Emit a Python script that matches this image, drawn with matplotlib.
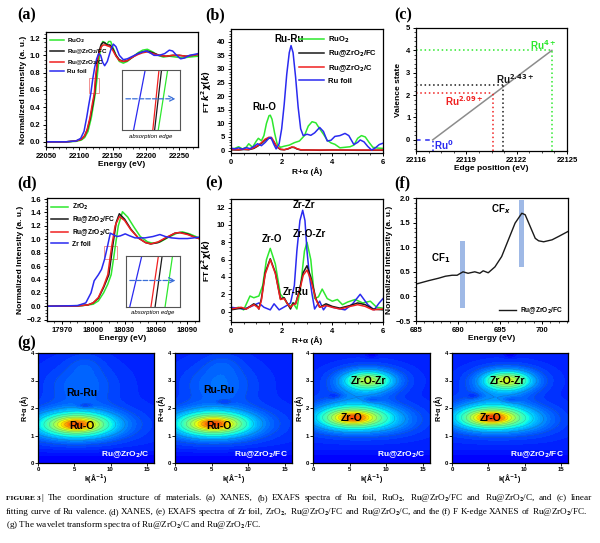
import numpy as np
import matplotlib
matplotlib.use('Agg')
import matplotlib.pyplot as plt
from matplotlib.patches import Rectangle

plt.rcParams['font.family'] = ['Liberation Sans', 'DejaVu Sans']
plt.rcParams['font.weight'] = 'bold'
plt.rcParams['axes.labelweight'] = 'bold'
plt.rcParams['axes.linewidth'] = 0.9

GREEN = '#2ee82e'
BLACK = '#1a1a1a'
RED = '#f02020'
BLUE = '#2a2af0'

# ---------------- (a) Ru K-edge XANES ----------------
a_labels = ['RuO$_2$', 'Ru@ZrO$_2$/FC', 'Ru@ZrO$_2$/C', 'Ru foil']
a_ruo2_e = [22050, 22080, 22095, 22103, 22108, 22113, 22118, 22121, 22124, 22126.6, 22129, 22132, 22135, 22138,
            22141, 22144, 22147, 22150, 22155, 22160, 22166, 22172, 22180, 22188, 22195, 22202, 22210, 22218,
            22226, 22235, 22245, 22255, 22265, 22278]
a_ruo2_mu = [0, 0, 0.005, 0.02, 0.05, 0.12, 0.28, 0.42, 0.56, 0.74, 0.92, 1.08, 1.16, 1.15, 1.12, 1.16, 1.16,
             1.10, 1.0, 0.93, 0.91, 0.93, 0.98, 1.03, 1.06, 1.07, 1.04, 1.0, 0.98, 0.99, 0.98, 0.97, 0.98, 0.99]
a_fc_e = [22050, 22080, 22095, 22103, 22108, 22112, 22116, 22120, 22123, 22124.9, 22127, 22130, 22133, 22136,
          22139, 22142, 22146, 22150, 22155, 22160, 22166, 22172, 22180, 22188, 22195, 22202, 22210, 22220,
          22230, 22240, 22250, 22260, 22270, 22278]
a_fc_mu = [0, 0, 0.01, 0.03, 0.07, 0.14, 0.26, 0.42, 0.56, 0.74, 0.92, 1.06, 1.13, 1.15, 1.14, 1.12, 1.12,
           1.08, 1.0, 0.95, 0.93, 0.94, 0.98, 1.02, 1.04, 1.05, 1.03, 1.0, 0.99, 1.0, 1.0, 0.99, 1.0, 1.01]
a_c_e = [22050, 22080, 22095, 22103, 22108, 22112, 22116, 22119.5, 22122.5, 22124.2, 22127, 22130, 22133, 22136,
         22139, 22142, 22146, 22150, 22155, 22160, 22166, 22172, 22180, 22188, 22195, 22202, 22210, 22220,
         22230, 22240, 22250, 22260, 22270, 22278]
a_c_mu = [0, 0, 0.01, 0.03, 0.07, 0.15, 0.28, 0.44, 0.56, 0.74, 0.92, 1.04, 1.10, 1.12, 1.12, 1.11, 1.10,
          1.06, 0.99, 0.94, 0.93, 0.94, 0.98, 1.01, 1.03, 1.04, 1.02, 1.0, 0.99, 1.0, 1.0, 0.99, 1.0, 1.01]
a_foil_e = [22050, 22080, 22095, 22102, 22107, 22111, 22114, 22117.2, 22120.4, 22123, 22126, 22129, 22132,
            22135, 22138, 22142, 22147, 22151, 22155, 22160, 22166, 22172, 22180, 22188, 22195, 22200, 22206,
            22212, 22220, 22228, 22235, 22240, 22246, 22252, 22258, 22265, 22272, 22278]
a_foil_mu = [0, 0, 0.01, 0.04, 0.12, 0.28, 0.42, 0.56, 0.74, 0.86, 0.96, 1.02, 1.0, 0.92, 0.88, 0.93, 1.06,
             1.13, 1.10, 1.0, 0.95, 0.96, 0.99, 1.02, 1.04, 1.05, 1.03, 1.0, 1.0, 1.02, 1.06, 1.05, 1.0, 0.96,
             0.97, 1.0, 1.01, 1.02]
a_zoom_box = [22114, 22130, 0.56, 0.74]

# ---------------- (b) Ru EXAFS ----------------
b_labels = a_labels
b_ruo2_r = [0, 0.15, 0.3, 0.45, 0.6, 0.7, 0.85, 1.0, 1.08, 1.2, 1.3, 1.4, 1.5, 1.55, 1.62, 1.72, 1.82, 1.95, 2.1,
            2.3, 2.5, 2.7, 2.9, 3.05, 3.2, 3.35, 3.5, 3.65, 3.8, 3.95, 4.1, 4.3, 4.5, 4.7, 4.85, 5.0, 5.15, 5.3,
            5.45, 5.6, 5.8, 6.0]
b_ruo2_ft = [0.5, 0.8, 1.4, 0.6, 1.2, 2.5, 1.2, 3.5, 4.5, 3.6, 5.5, 10, 12.8, 13.0, 11.5, 6.5, 2.5, 1.2, 1.6,
             2.0, 2.9, 3.5, 5.5, 9.0, 10.6, 10.2, 8.0, 6.0, 3.8, 2.8, 2.3, 1.0, 1.2, 1.4, 2.0, 4.5, 5.5, 5.0,
             3.0, 1.2, 0.9, 0.8]
b_fc_r = [0, 0.3, 0.5, 0.7, 0.9, 1.05, 1.2, 1.35, 1.5, 1.6, 1.7, 1.8, 1.95, 2.1, 2.25, 2.4, 2.5, 2.6, 2.75,
          3.0, 3.5, 4.0, 5.0, 6.0]
b_fc_ft = [0.3, 0.2, 0.4, 0.3, 0.8, 1.6, 2.6, 3.9, 4.6, 4.4, 3.0, 1.4, 0.4, 0.3, 0.6, 1.2, 1.1, 0.6, 0.2,
           0.2, 0.1, 0.2, 0.1, 0.1]
b_c_r = b_fc_r
b_c_ft = [0.4, 0.3, 0.5, 0.4, 1.0, 1.8, 2.9, 4.2, 4.9, 4.8, 3.3, 1.6, 0.5, 0.3, 0.7, 1.3, 1.2, 0.7, 0.3,
          0.2, 0.2, 0.2, 0.2, 0.2]
b_foil_r = [0, 0.15, 0.3, 0.45, 0.6, 0.75, 0.9, 1.05, 1.2, 1.35, 1.5, 1.58, 1.68, 1.78, 1.9, 2.0, 2.1, 2.2,
            2.3, 2.37, 2.45, 2.55, 2.65, 2.75, 2.85, 3.0, 3.15, 3.3, 3.5, 3.65, 3.8, 3.95, 4.1, 4.3, 4.5, 4.65,
            4.85, 5.0, 5.1, 5.25, 5.4, 5.55, 5.7, 5.85, 6.0]
b_foil_ft = [0.9, 0.6, 1.0, 0.5, 1.1, 0.7, 1.5, 2.5, 1.8, 3.0, 4.6, 4.8, 2.5, 0.6, 2.5, 8, 17, 28, 36, 38.6,
             36, 27, 16, 8, 5.5, 6.0, 5.6, 6.5, 8.5, 7.0, 3.5, 3.8, 5.2, 5.5, 6.3, 5.5, 2.2, 3.0, 3.9, 3.2,
             1.5, 0.2, 1.0, 2.2, 2.7]

# ---------------- (c) valence fit ----------------
c_names = ['Ru$^0$', 'Ru$^{2.09+}$', 'Ru$^{2.43+}$', 'Ru$^{4+}$']
c_edge = [22117.0, 22120.6, 22121.2, 22124.1]
c_valence = [0, 2.09, 2.43, 4]
c_colors = [BLUE, RED, BLACK, GREEN]

# ---------------- (d) Zr K-edge XANES ----------------
d_labels = ['ZrO$_2$', 'Ru@ZrO$_2$/FC', 'Ru@ZrO$_2$/C', 'Zr foil']
d_zro2_e = [17956, 17990, 18000, 18005, 18010, 18014, 18017.2, 18019.4, 18021.2, 18024, 18028, 18033, 18039,
            18045, 18052, 18057, 18064, 18072, 18080, 18085, 18092, 18098, 18101]
d_zro2_mu = [0, 0.01, 0.03, 0.08, 0.2, 0.33, 0.47, 0.70, 0.90, 1.2, 1.41, 1.33, 1.18, 1.04, 0.96, 0.94, 0.96,
             1.03, 1.09, 1.11, 1.08, 1.04, 1.02]
d_fc_e = [17956, 17985, 17995, 18000, 18005, 18010, 18015, 18017, 18018.7, 18022, 18025, 18030, 18036, 18043,
          18050, 18055, 18062, 18070, 18078, 18083, 18090, 18097, 18101]
d_fc_mu = [0, 0.005, 0.02, 0.05, 0.12, 0.28, 0.47, 0.70, 0.90, 1.25, 1.38, 1.3, 1.15, 1.02, 0.95, 0.93, 0.95,
           1.02, 1.09, 1.10, 1.08, 1.03, 1.01]
d_c_e = [17956, 17985, 17995, 18000, 18005, 18010, 18014, 18016, 18017.8, 18021, 18025, 18030, 18036, 18043,
         18050, 18055, 18062, 18070, 18078, 18082, 18090, 18097, 18101]
d_c_mu = [0, 0.005, 0.02, 0.05, 0.13, 0.30, 0.47, 0.70, 0.90, 1.2, 1.34, 1.28, 1.14, 1.02, 0.95, 0.93, 0.96,
          1.03, 1.09, 1.10, 1.07, 1.03, 1.01]
d_foil_e = [17956, 17985, 17993, 17998, 18001, 18005, 18008, 18010.9, 18013.8, 18016.4, 18019, 18022.7,
            18026, 18030.6, 18035, 18040, 18049.5, 18057, 18063.7, 18069, 18074.8, 18082, 18090, 18096, 18101]
d_foil_mu = [0, 0.01, 0.05, 0.2, 0.38, 0.47, 0.55, 0.70, 0.90, 1.09, 1.07, 1.04, 1.05, 1.08, 1.05, 1.02,
             1.02, 1.04, 1.07, 1.04, 1.02, 1.01, 1.01, 1.02, 1.03]
d_zoom_box = [18010, 18023, 0.70, 0.90]

# ---------------- (e) Zr EXAFS ----------------
e_zro2_r = [0, 0.3, 0.5, 0.75, 0.9, 1.1, 1.25, 1.4, 1.55, 1.75, 1.95, 2.1, 2.2, 2.35, 2.45, 2.6, 2.75, 2.9,
            3.0, 3.15, 3.3, 3.45, 3.6, 3.8, 4.0, 4.2, 4.4, 4.6, 4.9, 5.2, 5.5, 5.75, 6.0]
e_zro2_ft = [0.3, 0.5, 0.2, 1.8, 1.6, 1.8, 3.0, 6.0, 7.3, 5.5, 2.0, 1.5, 1.0, 0.6, 1.0, 0.3, 3.0, 7.0, 8.0,
             6.0, 1.5, 1.7, 2.6, 1.5, 1.2, 1.4, 0.8, 1.1, 1.4, 1.0, 1.2, 0.5, 0.4]
e_fc_r = [0, 0.4, 0.6, 0.9, 1.05, 1.1, 1.2, 1.35, 1.55, 1.75, 1.95, 2.1, 2.25, 2.35, 2.45, 2.55, 2.7, 2.85,
          3.0, 3.15, 3.35, 3.5, 3.75, 4.0, 4.3, 4.7, 5.0, 5.3, 5.6, 6.0]
e_fc_ft = [0.2, 0.4, 0.3, 0.9, 0.6, 0.3, 1.5, 4.5, 6.1, 4.5, 1.5, 1.6, 0.8, 0.3, 1.0, 0.9, 2.5, 4.5, 5.3,
           4.0, 1.5, 0.5, 0.9, 0.6, 0.4, 0.7, 1.0, 0.8, 0.3, 0.2]
e_c_r = e_fc_r
e_c_ft = [0.3, 0.5, 0.3, 0.8, 0.5, 0.3, 1.3, 4.3, 6.0, 4.4, 1.4, 1.5, 0.8, 0.5, 0.8, 0.9, 2.3, 4.2, 4.8,
          3.7, 1.4, 0.5, 0.7, 0.5, 0.3, 0.6, 0.8, 0.6, 0.2, 0.3]
e_foil_r = [0, 0.5, 0.8, 1.1, 1.3, 1.55, 1.7, 1.9, 2.2, 2.35, 2.5, 2.6, 2.72, 2.83, 2.92, 3.0, 3.1, 3.2, 3.3,
            3.5, 3.65, 3.8, 4.0, 4.5, 4.8, 5.1, 5.4, 5.65, 5.85, 6.0]
e_foil_ft = [0.5, 0.3, 0.6, 1.0, 0.5, 0.2, 0.9, 0.2, 0.7, 1.0, 3.0, 7.0, 10.5, 11.7, 10.5, 7.0, 4.0, 2.0, 0.3,
             1.2, 0.2, 0.8, 0.5, 0.2, 0.9, 2.0, 0.8, 0.2, 1.0, 1.5]

# ---------------- (f) F K-edge XANES ----------------
f_e = [685, 686.5, 687.7, 688.5, 689.3, 689.9, 690.6, 691.2, 692, 692.6, 693, 693.6, 694.4, 695.2, 696,
       696.8, 697.6, 698, 698.6, 699.2, 699.6, 700.2, 701.2, 702, 703.1]
f_mu = [0.25, 0.32, 0.37, 0.41, 0.43, 0.43, 0.50, 0.47, 0.50, 0.47, 0.52, 0.48, 0.60, 0.81, 1.15, 1.49, 1.69,
        1.66, 1.42, 1.18, 1.13, 1.11, 1.15, 1.22, 1.32]
f_band_e = [690.55, 697.6]
f_band_lo = [-0.23, 0.6]
f_band_hi = [1.12, 1.95]
f_band_names = ['CF$_1$', 'CF$_x$']

# ---------------- (g) wavelet transforms: (k0, R0, sk, sR, amplitude) ----------------
wt_titles = ['Ru@ZrO$_2$/C', 'Ru@ZrO$_2$/FC', 'Ru@ZrO$_2$/C', 'Ru@ZrO$_2$/FC']
wt_ru_c = [(5.3, 1.40, 5.5, 0.45, 0.12), (5.3, 1.40, 3.4, 0.30, 0.32), (5.3, 1.40, 1.8, 0.14, 0.22),
           (6.0, 2.8, 3.5, 0.55, 0.07), (6.5, 3.6, 1.8, 0.3, 0.03),
           (6.5, 2.08, 0.8, 0.07, -0.06), (8.0, 0.1, 20.0, 0.25, -0.04)]
wt_ru_fc = [(5.3, 1.42, 5.5, 0.45, 0.12), (5.3, 1.42, 3.4, 0.30, 0.32), (5.3, 1.42, 1.8, 0.14, 0.23),
            (6.0, 2.85, 3.5, 0.55, 0.075), (6.5, 3.6, 1.8, 0.3, 0.03),
            (6.7, 2.22, 0.8, 0.07, -0.05), (8.0, 0.1, 20.0, 0.25, -0.04)]
wt_zr_c = [(5.5, 1.65, 5.0, 0.42, 0.12), (5.5, 1.65, 3.2, 0.28, 0.32), (5.5, 1.65, 1.7, 0.13, 0.22),
           (7.5, 3.0, 3.0, 0.32, 0.20), (7.5, 3.0, 1.8, 0.18, 0.20),
           (6.0, 2.4, 3.0, 0.35, 0.04), (11.0, 1.5, 3.0, 0.35, 0.04),
           (3.0, 2.45, 0.7, 0.08, -0.05), (8.0, 2.3, 0.8, 0.08, -0.05), (8.0, 3.95, 0.6, 0.1, -0.05),
           (8.0, 0.1, 20.0, 0.25, -0.04)]
wt_zr_fc = [(5.5, 1.65, 5.0, 0.42, 0.12), (5.5, 1.65, 3.2, 0.28, 0.32), (5.5, 1.65, 1.7, 0.13, 0.24),
            (7.6, 3.0, 3.0, 0.32, 0.21), (7.6, 3.0, 1.8, 0.18, 0.23),
            (6.0, 2.4, 3.0, 0.35, 0.04), (11.0, 1.5, 3.0, 0.35, 0.04),
            (3.0, 2.45, 0.7, 0.08, -0.05), (8.0, 2.3, 0.8, 0.08, -0.05), (8.0, 3.95, 0.6, 0.1, -0.05),
            (8.0, 0.1, 20.0, 0.25, -0.04)]
wt_background = 0.16
wt_names = [('Ru-O', 'Ru-Ru'), ('Ru-O', 'Ru-Ru'), ('Zr-O', 'Zr-O-Zr'), ('Zr-O', 'Zr-O-Zr')]
wt_name_pos = [((6.0, 1.36), (6.0, 2.55)), ((6.0, 1.36), (6.0, 2.65)),
               ((5.3, 1.64), (7.6, 3.0)), ((5.3, 1.64), (7.6, 3.0))]

cap_line1 = ('The coordination structure of materials. (a) XANES, (b) EXAFS spectra of Ru foil, RuO$_2$, '
             'Ru@ZrO$_2$/FC and Ru@ZrO$_2$/C, and (c) linear')
cap_line2 = ('fitting curve of Ru valence. (d) XANES, (e) EXAFS spectra of Zr foil, ZrO$_2$, Ru@ZrO$_2$/FC and '
             'Ru@ZrO$_2$/C, and the (f) F K-edge XANES of Ru@ZrO$_2$/FC.')
cap_line3 = '(g) The wavelet transform spectra of Ru@ZrO$_2$/C and Ru@ZrO$_2$/FC.'

fig = plt.figure(figsize=(6, 5.43), dpi=100)
renderer = fig.canvas.get_renderer()


def px_axes(l, t, r, b):
    return fig.add_axes([l / 600, 1 - b / 543, (r - l) / 600, (b - t) / 543])


def style(ax, size=5.5):
    ax.tick_params(labelsize=size, length=2.5, width=0.7, pad=1.5)
    ax.tick_params(which='minor', length=1.5, width=0.5)
    ax.minorticks_on()


def panel_label(x, y, s):
    fig.text(x / 600, 1 - y / 543, s, family=['Liberation Serif'], fontsize=11.5,
             fontweight='bold', va='center', ha='left')


def justified(line, x0, x1, y, **kw):
    words = line.split(' ')
    texts = [fig.text(0, 1 - y / 543, w, **kw) for w in words]
    widths = [t.get_window_extent(renderer).width for t in texts]
    gap = (x1 - x0 - sum(widths)) / (len(words) - 1)
    x = x0
    for t, w in zip(texts, widths):
        t.set_x(x / 600)
        x += w + gap


def xanes_inset(rect, curves, box):
    ins = px_axes(*rect)
    for e, mu, col in curves:
        ins.plot(e, mu, color=col, lw=0.9)
    ins.set_xlim(box[0], box[1])
    ins.set_ylim(box[2], box[3])
    ins.set_xticks([])
    ins.set_yticks([])
    for s in ins.spines.values():
        s.set_color('#555555')
        s.set_linewidth(0.8)
    ins.annotate('', xy=(0.97, 0.52), xytext=(0.02, 0.52), xycoords='axes fraction',
                 arrowprops=dict(arrowstyle='->', ls='--', color='#3a6fd8', lw=0.9))
    ins.text(0.5, -0.06, 'absorption edge', transform=ins.transAxes, ha='center', va='top',
             fontsize=4.3, style='italic', fontweight='normal')


# ---- (a)
ax = px_axes(46, 32, 198, 147)
a_curves = [(a_ruo2_e, a_ruo2_mu, GREEN), (a_fc_e, a_fc_mu, BLACK), (a_c_e, a_c_mu, RED),
            (a_foil_e, a_foil_mu, BLUE)]
for (e, mu, col), lab in zip(a_curves, a_labels):
    ax.plot(e, mu, color=col, lw=1.1, label=lab)
ax.set_xlim(22050, 22278)
ax.set_ylim(-0.06, 1.27)
ax.set_xticks([22050, 22100, 22150, 22200, 22250])
ax.set_yticks(np.arange(0, 1.21, 0.2))
ax.set_xlabel('Energy (eV)', fontsize=6, labelpad=1)
ax.set_ylabel('Normalized Intensity (a. u.)', fontsize=6, labelpad=2)
ax.add_patch(Rectangle((a_zoom_box[0], a_zoom_box[2]), a_zoom_box[1] - a_zoom_box[0],
                       a_zoom_box[3] - a_zoom_box[2], fill=False, ec='#f08080', lw=0.6))
ax.legend(loc='upper left', frameon=False, fontsize=4.5, handlelength=2.2, labelspacing=0.35,
          borderaxespad=0.2, handletextpad=0.6)
style(ax)
xanes_inset((122, 70, 180, 130), a_curves, a_zoom_box)

# ---- (b)
ax = px_axes(231, 29, 383, 153)
for r, ft, col, lab in [(b_ruo2_r, b_ruo2_ft, GREEN, b_labels[0]), (b_fc_r, b_fc_ft, BLACK, b_labels[1]),
                        (b_c_r, b_c_ft, RED, b_labels[2]), (b_foil_r, b_foil_ft, BLUE, b_labels[3])]:
    ax.plot(r, ft, color=col, lw=1.1, label=lab)
ax.set_xlim(0, 6)
ax.set_ylim(-0.9, 44.7)
ax.set_xticks([0, 2, 4, 6])
ax.set_yticks(np.arange(0, 41, 5))
ax.set_xlabel('R+α (Å)', fontsize=6, labelpad=1)
ax.set_ylabel(r'FT $k^2\chi(k)$', fontsize=6, labelpad=2)
ax.text(2.3, 41.2, 'Ru-Ru', fontsize=7, ha='center', va='center')
ax.text(1.3, 16.2, 'Ru-O', fontsize=7, ha='center', va='center')
ax.legend(loc='upper right', frameon=False, fontsize=5.5, handlelength=3.2, labelspacing=0.5,
          borderaxespad=0.3, handletextpad=0.6)
style(ax)

# ---- (c)
ax = px_axes(416, 28, 567, 151)
ax.plot([c_edge[0], c_edge[-1]], [c_valence[0], c_valence[-1]], color='#8c8c8c', lw=1.1)
for e, v, col in zip(c_edge, c_valence, c_colors):
    ls = (0, (3, 3)) if v == 0 else (0, (1, 1.8))
    ax.plot([22116, e], [v, v], color=col, lw=1.1, ls=ls)
    ax.plot([e, e], [-0.5, v], color=col, lw=1.1, ls=(0, (1, 1.8)))
c_text = [(22117.1, -0.22, 'left'), (22120.0, 1.72, 'right'), (22121.9, 2.7, 'center'), (22123.6, 4.25, 'center')]
for (x, y, ha), s, col in zip(c_text, c_names, c_colors):
    ax.text(x, y, s, color=col, fontsize=7, ha=ha, va='center')
ax.set_xlim(22116, 22125)
ax.set_ylim(-0.5, 5)
ax.set_xticks([22116, 22119, 22122, 22125])
ax.set_yticks(range(0, 6))
ax.set_xlabel('Edge position (eV)', fontsize=6, labelpad=1)
ax.set_ylabel('Valence state', fontsize=6, labelpad=3)
style(ax)

# ---- (d)
ax = px_axes(47, 198, 199, 321)
d_curves = [(d_zro2_e, d_zro2_mu, GREEN), (d_fc_e, d_fc_mu, BLACK), (d_c_e, d_c_mu, RED),
            (d_foil_e, d_foil_mu, BLUE)]
for (e, mu, col), lab in zip(d_curves, d_labels):
    ax.plot(e, mu, color=col, lw=1.1, label=lab)
ax.set_xlim(17956, 18101)
ax.set_ylim(-0.22, 1.615)
ax.set_xticks([17970, 18000, 18030, 18060, 18090])
ax.set_yticks(np.arange(-0.2, 1.61, 0.2))
ax.set_xlabel('Energy (eV)', fontsize=6, labelpad=1)
ax.set_ylabel('Normalized Intensity (a. u.)', fontsize=6, labelpad=2)
ax.add_patch(Rectangle((d_zoom_box[0], d_zoom_box[2]), d_zoom_box[1] - d_zoom_box[0],
                       d_zoom_box[3] - d_zoom_box[2], fill=False, ec='#f08080', lw=0.6))
ax.legend(loc='upper left', frameon=False, fontsize=4.8, handlelength=2.6, labelspacing=0.35,
          borderaxespad=0.2, handletextpad=0.6)
style(ax)
xanes_inset((126, 256, 180, 307), d_curves, d_zoom_box)

# ---- (e)
ax = px_axes(231, 199, 383, 322)
for r, ft, col in [(e_zro2_r, e_zro2_ft, GREEN), (e_foil_r, e_foil_ft, BLUE), (e_fc_r, e_fc_ft, BLACK),
                   (e_c_r, e_c_ft, RED)]:
    ax.plot(r, ft, color=col, lw=1.1)
ax.set_xlim(0, 6)
ax.set_ylim(-1.2, 13)
ax.set_xticks([0, 2, 4, 6])
ax.set_yticks(range(0, 13, 2))
ax.set_xlabel('R+α (Å)', fontsize=6, labelpad=1)
ax.set_ylabel(r'FT $k^2\chi(k)$', fontsize=6, labelpad=2)
for x, y, s in [(2.9, 12.3, 'Zr-Zr'), (1.6, 8.4, 'Zr-O'), (3.1, 9.0, 'Zr-O-Zr'), (2.55, 2.3, 'Zr-Ru')]:
    ax.text(x, y, s, fontsize=7, ha='center', va='center')
style(ax)

# ---- (f)
ax = px_axes(416, 198, 568, 321)
for x, lo, hi in zip(f_band_e, f_band_lo, f_band_hi):
    ax.fill_between([x - 0.28, x + 0.28], lo, hi, color='#9fb9e6', lw=0)
ax.plot(f_e, f_mu, color=BLACK, lw=1.0, label='Ru@ZrO$_2$/FC')
ax.text(687.9, 0.78, f_band_names[0], fontsize=7, ha='center', va='center')
ax.text(695.1, 1.78, f_band_names[1], fontsize=7, ha='center', va='center')
ax.set_xlim(685, 703.1)
ax.set_ylim(-0.5, 2.0)
ax.set_xticks([685, 690, 695, 700])
ax.set_yticks(np.arange(-0.5, 2.01, 0.5))
ax.set_xlabel('Energy (eV)', fontsize=6, labelpad=1)
ax.set_ylabel('Normalized Intensity (a. u.)', fontsize=6, labelpad=2)
ax.legend(loc='lower right', frameon=False, fontsize=4.8, handlelength=2.6, borderaxespad=0.3,
          handletextpad=0.6)
style(ax)

# ---- (g)
kk, rr = np.meshgrid(np.linspace(0, 16, 161), np.linspace(0, 4, 121))
g_rects = [(38, 353, 154, 463), (175, 353, 292, 463), (313, 353, 430, 463), (452, 353, 568, 463)]
for rect, peaks, title, names, pos in zip(g_rects, [wt_ru_c, wt_ru_fc, wt_zr_c, wt_zr_fc], wt_titles,
                                          wt_names, wt_name_pos):
    ax = px_axes(*rect)
    z = np.full_like(kk, wt_background)
    for k0, r0, sk, sr, amp in peaks:
        z += amp * np.exp(-((kk - k0) / sk) ** 2 / 2 - ((rr - r0) / sr) ** 2 / 2)
    ax.contourf(kk, rr, z, levels=np.linspace(0, 1, 61), cmap='jet')
    ax.contour(kk, rr, z, levels=np.linspace(0.2, 0.9, 12), colors='#3c3c3c', linewidths=0.25, alpha=0.4)
    ax.set_xlim(0, 16)
    ax.set_ylim(0, 4)
    ax.set_xticks([0, 5, 10, 15])
    ax.set_yticks(range(0, 5))
    ax.tick_params(labelsize=4.3, length=2, width=0.6, pad=1)
    ax.set_xlabel('k(Å$^{-1}$)', fontsize=5, labelpad=0)
    ax.set_ylabel('R+α (Å)', fontsize=5, labelpad=1)
    for s, (x, y) in zip(names, pos):
        ax.text(x, y, s, fontsize=7.5, ha='center', va='center')
    ax.text(15.4, 0.32, title, color='white', fontsize=6, ha='right', va='center')

for x, y, s in [(17, 15, '(a)'), (205, 15, '(b)'), (394, 15, '(c)'), (17, 183, '(d)'), (205, 183, '(e)'),
                (394, 183, '(f)'), (17, 343, '(g)')]:
    panel_label(x, y, s)

# caption
cap_kw = dict(family=['Liberation Serif'], fontsize=6.6, fontweight='normal', va='center',
              math_fontfamily='stix')
fig.text(6 / 600, 1 - 498 / 543, 'FIGURE 3', family=['Liberation Serif'], fontsize=5.4, fontweight='bold',
         va='center')
fig.text(41 / 600, 1 - 498 / 543, '|', **cap_kw)
justified(cap_line1, 48, 592, 498, **cap_kw)
justified(cap_line2, 6, 587, 512, **cap_kw)
fig.text(6 / 600, 1 - 525 / 543, cap_line3, **cap_kw)

fig.savefig('out.png', dpi=100)
